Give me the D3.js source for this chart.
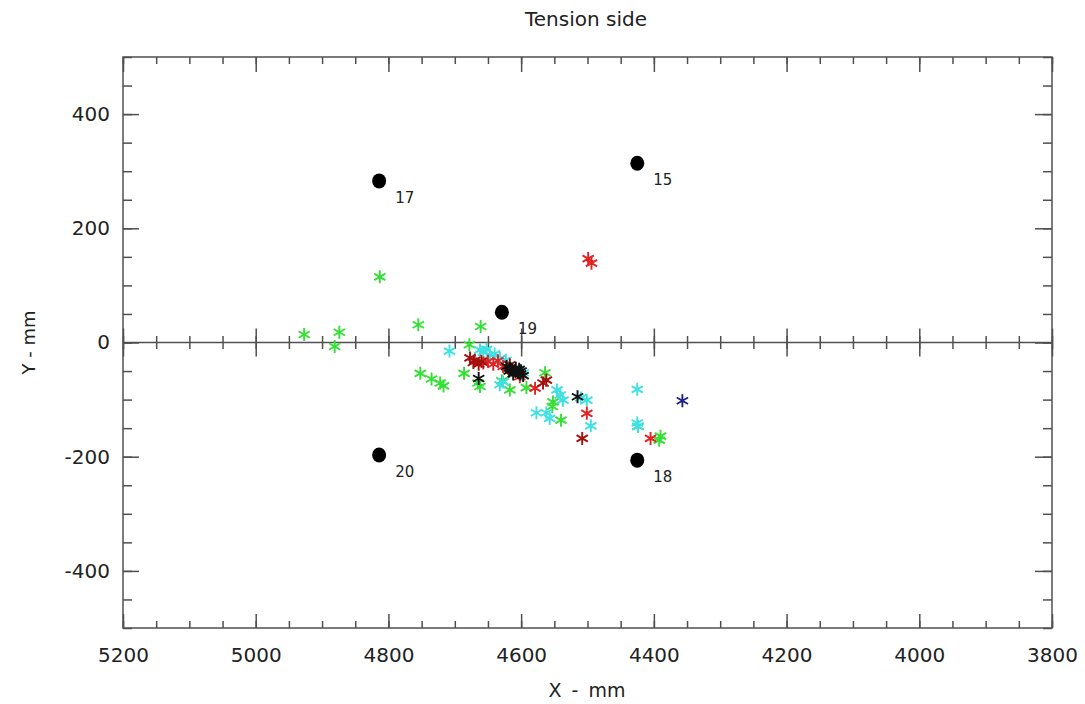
<!DOCTYPE html>
<html>
<head>
<meta charset="utf-8">
<script src="https://cdn.jsdelivr.net/npm/d3@7"></script>
<style>
  html, body { margin: 0; padding: 0; background: #fff; }
  svg { display: block; }
  text { font-family: "DejaVu Sans", sans-serif; fill: #222; }
</style>
</head>
<body>
<svg id="chart" width="1085" height="704"></svg>
<script>
// Reference targets (large filled dots) with their ID numbers
const targetIds = ["15", "17", "18", "19", "20"];
const targetX   = [4425, 4814, 4425, 4629, 4814];
const targetY   = [314, 283, -206, 53, -197];

// Measured points, one pair of arrays per series (X mm, Y mm)
const greenX = [4813, 4927, 4874, 4881, 4755, 4661, 4678, 4752, 4735, 4717, 4722, 4686, 4662, 4665, 4617, 4592, 4629, 4564, 4552, 4553, 4540, 4424, 4390, 4392];
const greenY = [115, 14, 18, -7, 31, 28, -4, -54, -64, -76, -71, -54, -77, -71, -83, -79, -67, -53, -104, -112, -136, -147, -164, -171];

const cyanX = [4708, 4662, 4657, 4647, 4632, 4623, 4597, 4627, 4632, 4546, 4541, 4537, 4501, 4510, 4495, 4577, 4562, 4557, 4425, 4424, 4425, 4652, 4640];
const cyanY = [-15, -13, -17, -22, -28, -31, -53, -69, -74, -83, -92, -101, -101, -97, -146, -123, -123, -133, -82, -147, -141, -12, -20];

const redX = [4499, 4494, 4657, 4642, 4627, 4614, 4602, 4579, 4501, 4405, 4635, 4650, 4620];
const redY = [147, 139, -36, -38, -42, -48, -60, -80, -124, -168, -32, -33, -45];

const darkRedX = [4670, 4677, 4664, 4567, 4562, 4508, 4617, 4672, 4660];
const darkRedY = [-31, -27, -38, -71, -66, -168, -39, -35, -33];

const blackX = [4664, 4622, 4617, 4613, 4609, 4605, 4601, 4597, 4612, 4603, 4608, 4618, 4600, 4515];
const blackY = [-63, -42, -45, -48, -50, -52, -55, -58, -55, -47, -45, -50, -50, -95];

const navyX = [4357];
const navyY = [-102];

// Axis tick values
const xMajorTicks = [5200, 5000, 4800, 4600, 4400, 4200, 4000, 3800];
const yMajorTicks = [-400, -200, 0, 200, 400];

const series = [
  { color: "#34e034", xs: greenX,   ys: greenY },
  { color: "#3fe0e4", xs: cyanX,    ys: cyanY },
  { color: "#e42222", xs: redX,     ys: redY },
  { color: "#a5100f", xs: darkRedX, ys: darkRedY },
  { color: "#111111", xs: blackX,   ys: blackY },
  { color: "#1f1f8e", xs: navyX,    ys: navyY }
];

const svg = d3.select("#chart");
const plotL = 123, plotR = 1052, plotT = 57, plotB = 628;

const x = d3.scaleLinear().domain([5200, 3800]).range([plotL, plotR]);
const y = d3.scaleLinear().domain([-500, 500]).range([plotB, plotT]);

const xMinor = d3.range(3800, 5201, 50);
const yMinor = d3.range(-500, 501, 50);
const axisColor = "#505050";
const plainNum = d => String(d);

function styleAxis(g) {
  g.select(".domain").remove();
  g.selectAll(".tick line").attr("stroke", axisColor).attr("stroke-width", 1.5);
  g.selectAll(".tick text").style("font-family", "DejaVu Sans, sans-serif")
    .style("font-size", "20px").attr("fill", "#222");
}

// Bottom axis: inward ticks, labels below
svg.append("g").attr("transform", `translate(0,${plotB})`)
  .call(d3.axisBottom(x).tickValues(xMinor).tickSize(-7).tickFormat(""))
  .call(styleAxis);
svg.append("g").attr("transform", `translate(0,${plotB})`)
  .call(d3.axisBottom(x).tickValues(xMajorTicks).tickSize(-14).tickPadding(20).tickFormat(plainNum))
  .call(styleAxis);

// Top axis: inward ticks only
svg.append("g").attr("transform", `translate(0,${plotT})`)
  .call(d3.axisTop(x).tickValues(xMinor).tickSize(-7).tickFormat(""))
  .call(styleAxis);
svg.append("g").attr("transform", `translate(0,${plotT})`)
  .call(d3.axisTop(x).tickValues(xMajorTicks).tickSize(-15).tickFormat(""))
  .call(styleAxis);

// Left axis: inward ticks, labels to the left
svg.append("g").attr("transform", `translate(${plotL},0)`)
  .call(d3.axisLeft(y).tickValues(yMinor).tickSize(-9).tickFormat(""))
  .call(styleAxis);
svg.append("g").attr("transform", `translate(${plotL},0)`)
  .call(d3.axisLeft(y).tickValues(yMajorTicks).tickSize(-16).tickPadding(13).tickFormat(plainNum))
  .call(styleAxis);

// Right axis: inward ticks only
svg.append("g").attr("transform", `translate(${plotR},0)`)
  .call(d3.axisRight(y).tickValues(yMinor).tickSize(-9).tickFormat(""))
  .call(styleAxis);
svg.append("g").attr("transform", `translate(${plotR},0)`)
  .call(d3.axisRight(y).tickValues(yMajorTicks).tickSize(-17).tickFormat(""))
  .call(styleAxis);

// Zero line with ticks crossing it
const y0 = y(0);
svg.append("line").attr("x1", plotL).attr("x2", plotR).attr("y1", y0).attr("y2", y0)
  .attr("stroke", axisColor).attr("stroke-width", 1.5);
[d3.axisTop, d3.axisBottom].forEach(ax => {
  svg.append("g").attr("transform", `translate(0,${y0})`)
    .call(ax(x).tickValues(xMinor).tickSize(6.5).tickFormat(""))
    .call(styleAxis);
  svg.append("g").attr("transform", `translate(0,${y0})`)
    .call(ax(x).tickValues(xMajorTicks).tickSize(14).tickFormat(""))
    .call(styleAxis);
});

// Plot frame
svg.append("rect").attr("x", plotL).attr("y", plotT)
  .attr("width", plotR - plotL).attr("height", plotB - plotT)
  .attr("fill", "none").attr("stroke", axisColor).attr("stroke-width", 1.5);

// Six-armed asterisk marker
const r = 6.5;
const c = r * Math.cos(Math.PI / 6), s = r * Math.sin(Math.PI / 6);
const starPath = `M0,${-r}L0,${r}M${-c},${-s}L${c},${s}M${-c},${s}L${c},${-s}`;

series.forEach(ser => {
  const pts = ser.xs.map((v, i) => [v, ser.ys[i]]);
  svg.append("g").selectAll("path").data(pts).join("path")
    .attr("d", starPath)
    .attr("transform", d => `translate(${x(d[0])},${y(d[1])})`)
    .attr("fill", "none")
    .attr("stroke", ser.color)
    .attr("stroke-width", 1.9);
});

// Target dots and their numbers
const targets = targetIds.map((id, i) => ({ id, x: targetX[i], y: targetY[i] }));
svg.append("g").selectAll("ellipse").data(targets).join("ellipse")
  .attr("cx", d => x(d.x)).attr("cy", d => y(d.y))
  .attr("rx", 7).attr("ry", 7.5).attr("fill", "#000");
svg.append("g").selectAll("text").data(targets).join("text")
  .attr("x", d => x(d.x) + 16).attr("y", d => y(d.y) + 22)
  .style("font-size", "15px")
  .text(d => d.id);

// Titles
svg.append("text").attr("x", 586).attr("y", 26).attr("text-anchor", "middle")
  .style("font-size", "20px").attr("fill", "#333").text("Tension side");
svg.append("text").attr("x", 587).attr("y", 697).attr("text-anchor", "middle")
  .style("font-size", "19px").style("word-spacing", "4px").text("X - mm");
svg.append("text").attr("transform", `translate(35,${y0}) rotate(-90)`)
  .attr("text-anchor", "middle")
  .style("font-size", "18px").text("Y - mm");
</script>
</body>
</html>
